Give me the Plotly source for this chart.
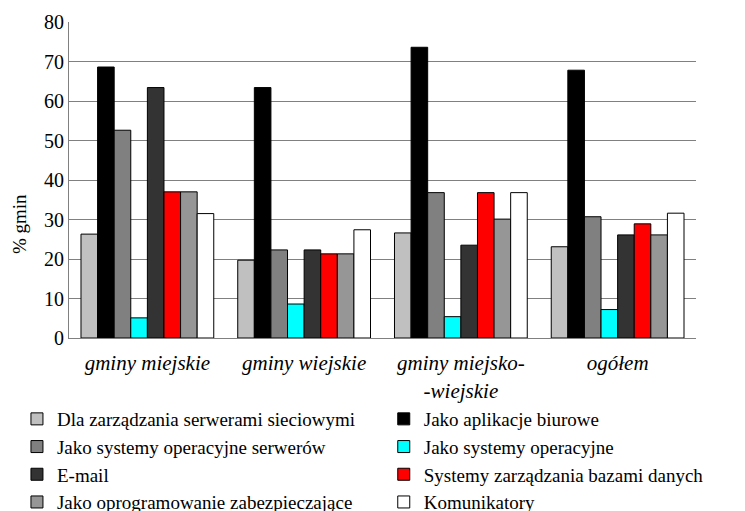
import plotly.graph_objects as go

categories = ["gminy miejskie", "gminy wiejskie", "gminy miejsko-<br>-wiejskie", "ogółem"]

series_names = [
    "Dla zarządzania serwerami sieciowymi",
    "Jako aplikacje biurowe",
    "Jako systemy operacyjne serwerów",
    "Jako systemy operacyjne",
    "E-mail",
    "Systemy zarządzania bazami danych",
    "Jako oprogramowanie zabezpieczające",
    "Komunikatory",
]

dla_zarzadzania = [26.3, 19.7, 26.6, 23.1]
aplikacje_biurowe = [68.6, 63.4, 73.6, 67.8]
so_serwerow = [52.6, 22.3, 36.8, 30.7]
systemy_operacyjne = [5.1, 8.6, 5.4, 7.2]
email = [63.4, 22.3, 23.5, 26.1]
bazy_danych = [37.0, 21.3, 36.8, 28.9]
zabezpieczajace = [37.0, 21.3, 30.1, 26.1]
komunikatory = [31.5, 27.4, 36.8, 31.6]

series_values = [dla_zarzadzania, aplikacje_biurowe, so_serwerow, systemy_operacyjne,
                 email, bazy_danych, zabezpieczajace, komunikatory]
colors = ["#C0C0C0", "#000000", "#808080", "#00FFFF", "#333333", "#FF0000", "#969696", "#FFFFFF"]

y_ticks = [0, 10, 20, 30, 40, 50, 60, 70, 80]

FONT = "Liberation Serif, Times New Roman, serif"

fig = go.Figure()
for i, (name, vals, col) in enumerate(zip(series_names, series_values, colors)):
    fig.add_trace(go.Bar(
        name=name, x=categories, y=vals,
        marker=dict(color=col, line=dict(color="#000000", width=1)),
        legend="legend" if i % 2 == 0 else "legend2",
    ))

legend_common = dict(
    orientation="v", xanchor="left", yanchor="top",
    xref="paper", yref="container",
    itemwidth=30, traceorder="normal",
    font=dict(family=FONT, size=19, color="#000000"),
    bgcolor="rgba(0,0,0,0)", tracegroupgap=0,
)

fig.update_layout(
    width=745, height=511,
    margin=dict(l=69, r=49, t=22, b=173),
    paper_bgcolor="white", plot_bgcolor="white",
    barmode="group", bargap=0.153, bargroupgap=0,
    font=dict(family=FONT, size=19, color="#000000"),
    showlegend=True,
    legend=dict(x=-0.083, y=0.2172, **legend_common),
    legend2=dict(x=0.502, y=0.2172, **legend_common),
    xaxis=dict(
        showgrid=False, showline=True, linecolor="#808080", linewidth=1,
        ticks="", ticklabelstandoff=6, automargin=False,
        tickfont=dict(family=FONT, size=21, style="italic"),
    ),
    yaxis=dict(
        range=[0, 80], tickvals=y_ticks, showgrid=True, gridcolor="#808080", gridwidth=1,
        showline=True, linecolor="#808080", linewidth=1, ticks="", automargin=False,
        tickfont=dict(family=FONT, size=20), zeroline=False,
    ),
    annotations=[dict(
        text="% gmin", textangle=-90, xref="paper", yref="paper",
        x=-0.08, y=0.36, xanchor="center", yanchor="middle", showarrow=False,
        font=dict(family=FONT, size=19),
    )],
)

fig.write_html("out.html", config={"displayModeBar": False},
               post_script="document.body.style.margin='0';document.body.style.padding='0';")
